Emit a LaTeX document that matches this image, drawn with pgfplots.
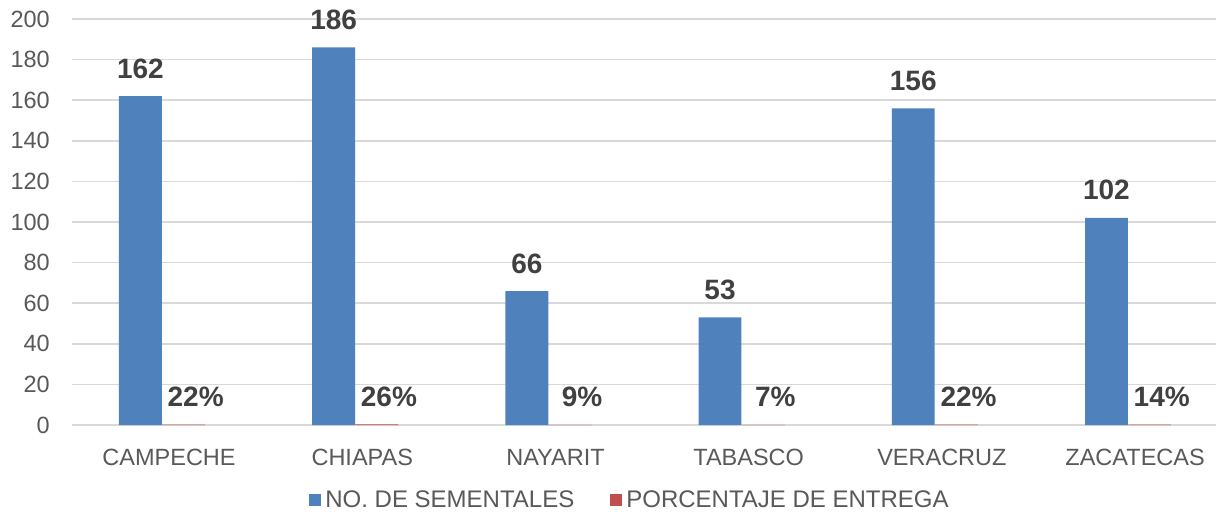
\documentclass[border=0pt]{standalone}
\usepackage{pgfplots}
\pgfplotsset{compat=1.18}
\usepackage{fontspec}
\setmainfont{Liberation Sans}

\definecolor{barblue}{HTML}{4F81BD}
\definecolor{barred}{HTML}{C0504D}
\definecolor{txtgray}{HTML}{595959}
\definecolor{lblgray}{HTML}{404040}
\definecolor{gridgray}{HTML}{D9D9D9}

\begin{document}
\begin{tikzpicture}
\begin{axis}[
    scale only axis, width=1144pt, height=406pt,
    xmin=-0.466, xmax=5.455, ymin=0, ymax=200,
    ybar, bar width=0.222,
    xtick={0,...,5},
    xticklabels={CAMPECHE,CHIAPAS,NAYARIT,TABASCO,VERACRUZ,ZACATECAS},
    ytick={0,20,...,200},
    ymajorgrids, grid style={gridgray, line width=1.5pt},
    axis line style={draw=none}, tick style={draw=none},
    ticklabel style={font=\fontsize{23.5}{28}\selectfont, text=txtgray},
    xticklabel style={anchor=base, yshift=-36pt, xshift=7pt},
    yticklabel style={anchor=east, inner sep=0pt, xshift=-22pt},
    /pgf/number format/assume math mode=true,
    nodes near coords, point meta=explicit symbolic,
    every node near coord/.append style={font=\bfseries\fontsize{28}{32}\selectfont,
        text=lblgray, anchor=base, inner sep=0pt, yshift=18pt},
    legend columns=2,
    legend style={draw=none, at={(0.5,0)}, anchor=center, yshift=-75pt, xshift=-13pt,
        font=\fontsize{24}{28}\selectfont, text=txtgray,
        nodes={inner xsep=4pt},
        /tikz/every even column/.append style={column sep=32pt}},
    legend image code/.code={\path[#1,draw=none] (0pt,-6pt) rectangle (12pt,6pt);},
    clip=false,
]
\addplot[fill=barblue, draw=none, bar shift=-0.112] coordinates {
    (0,162)[162] (1,186)[186] (2,66)[66] (3,53)[53] (4,156)[156] (5,102)[102]
};
\addlegendentry{NO. DE SEMENTALES}
\addplot[fill=barred, draw=none, bar shift=0.112,
    every node near coord/.append style={xshift=12pt}] coordinates {
    (0,0.22)[22\%] (1,0.26)[26\%] (2,0.09)[9\%] (3,0.07)[7\%] (4,0.22)[22\%] (5,0.14)[14\%]
};
\addlegendentry{PORCENTAJE DE ENTREGA}
\end{axis}
\pgfresetboundingbox
\path[use as bounding box] ([shift={(-72pt,-88pt)}]current axis.south west)
    rectangle ([shift={(0pt,19pt)}]current axis.north east);
\end{tikzpicture}
\end{document}
